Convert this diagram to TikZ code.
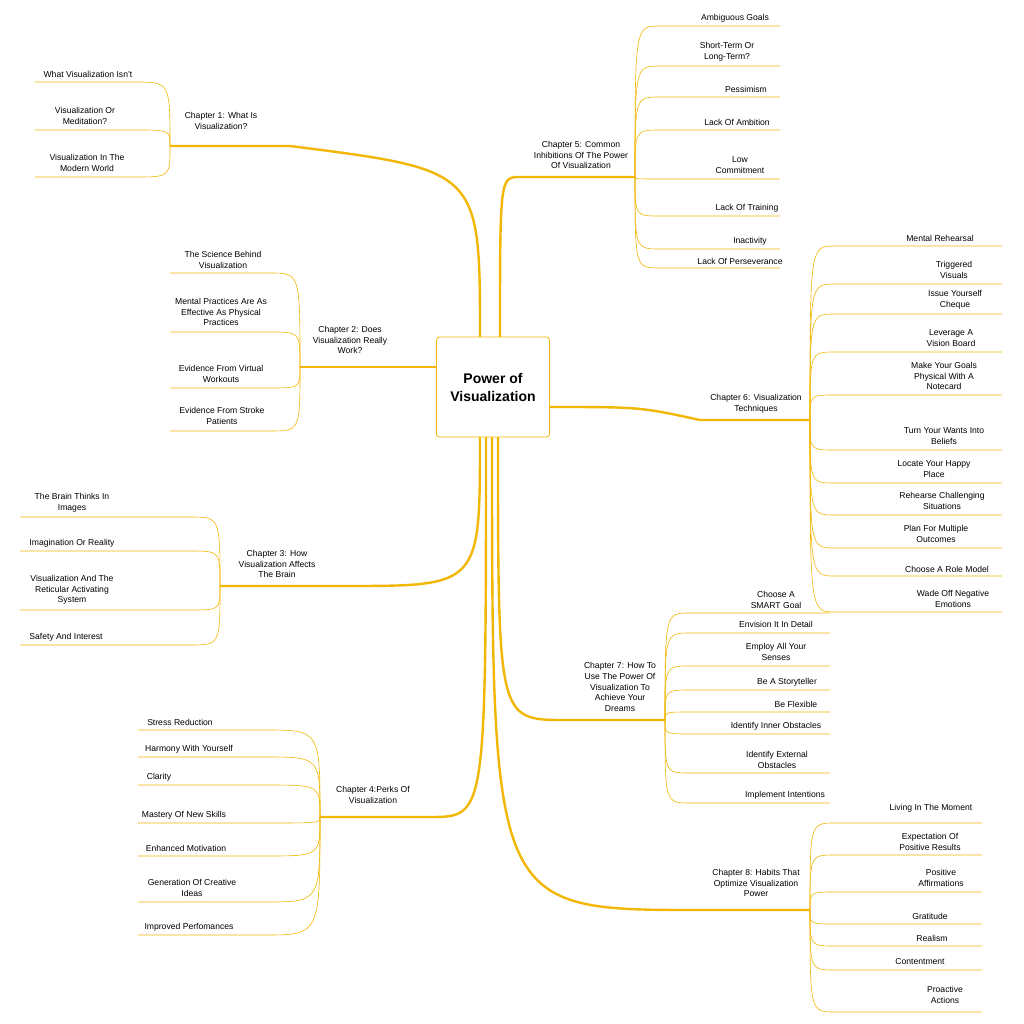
\documentclass[tikz,border=0pt]{standalone}
\usepackage{fontspec}
\setmainfont{Liberation Sans}
\definecolor{mapgold}{HTML}{F2B705}
\tikzset{
  leaf/.style={align=center,inner sep=1pt,font=\fontsize{8.6}{10.6}\selectfont},
  chap/.style={leaf},
  twig/.style={draw=mapgold,line width=0.6pt},
  limb/.style={draw=mapgold,line width=2.4pt},
  root/.style={draw=mapgold,line width=0.8pt,rounded corners=3pt,fill=white,
    minimum width=113pt,minimum height=100pt,align=center,
    font=\bfseries\fontsize{14}{18}\selectfont}
}
\begin{document}
\begin{tikzpicture}[x=1pt,y=-1pt]
\useasboundingbox[fill=white] (0,0) rectangle (1024,1024);
% chapter anchors
\coordinate (c1) at (170,146); \coordinate (e1) at (290,146);
\coordinate (c2) at (300,367); \coordinate (e2) at (437,367);
\coordinate (c3) at (220,586); \coordinate (e3) at (345,586);
\coordinate (c4) at (320,817); \coordinate (e4) at (430,817);
\coordinate (e5) at (520,177); \coordinate (c5) at (635,177);
\coordinate (e6) at (700,420); \coordinate (c6) at (810,420);
\coordinate (e7) at (565,720); \coordinate (c7) at (665,720);
\coordinate (e8) at (700,910); \coordinate (c8) at (810,910);
% main limbs
\coordinate (r1) at (480,337); \coordinate (r5) at (500,337);
\coordinate (r3) at (480,437); \coordinate (r4) at (486,437);
\coordinate (r8) at (492,437); \coordinate (r7) at (498,437);
\coordinate (r6) at (550,407);
\draw[limb] (r1) .. controls (480,170) .. (e1) -- (c1);
\draw[limb] (e2) -- (c2);
\draw[limb] (r3) .. controls (480,586) .. (e3) -- (c3);
\draw[limb] (r4) .. controls (486,817) .. (e4) -- (c4);
\draw[limb] (r5) .. controls (500,177) .. (e5) -- (c5);
\draw[limb] (r6) .. controls (640,407) .. (e6) -- (c6);
\draw[limb] (r7) .. controls (498,720) .. (e7) -- (c7);
\draw[limb] (r8) .. controls (492,910) .. (e8) -- (c8);
\node[root] (root) at (493,387) {Power of\\Visualization};
% chapter titles
\node[chap] (t1) at (221,121) {Chapter 1: What Is\\Visualization?};
\node[chap] (t2) at (350,340) {Chapter 2: Does\\Visualization Really\\Work?};
\node[chap] (t3) at (277,564) {Chapter 3: How\\Visualization Affects\\The Brain};
\node[chap] (t4) at (373,795) {Chapter 4:Perks Of\\Visualization};
\node[chap] (t5) at (581,155) {Chapter 5: Common\\Inhibitions Of The Power\\Of Visualization};
\node[chap] (t6) at (756,404) {Chapter 6: Visualization\\Techniques};
\node[chap] (t7) at (620,687) {Chapter 7: How To\\Use The Power Of\\Visualization To\\Achieve Your\\Dreams};
\node[chap] (t8) at (756,883) {Chapter 8: Habits That\\Optimize Visualization\\Power};
% left leaves
\foreach \tx/\ty/\uy/\t [count=\i] in {88/74/82/{What Visualization Isn't},
  85/116/130/{Visualization Or\\Meditation?},87/163/177/{Visualization In The\\Modern World}}{
  \node[leaf] (l1\i) at (\tx,\ty) {\t};
  \coordinate (a1\i) at (135,\uy); \coordinate (b1\i) at (35,\uy);
  \draw[twig] (c1) .. controls (c1 |- a1\i) .. (a1\i) -- (b1\i);
}
\foreach \tx/\ty/\uy/\t [count=\i] in {223/260/273/{The Science Behind\\Visualization},
  221/312/332/{Mental Practices Are As\\Effective As Physical\\Practices},
  221/374/388/{Evidence From Virtual\\Workouts},222/416/431/{Evidence From Stroke\\Patients}}{
  \node[leaf] (l2\i) at (\tx,\ty) {\t};
  \coordinate (a2\i) at (270,\uy); \coordinate (b2\i) at (170,\uy);
  \draw[twig] (c2) .. controls (c2 |- a2\i) .. (a2\i) -- (b2\i);
}
\foreach \tx/\ty/\uy/\t [count=\i] in {72/503/517/{The Brain Thinks In\\Images},
  72/543/551/{Imagination Or Reality},
  72/590/610/{Visualization And The\\Reticular Activating\\System},66/637/645/{Safety And Interest}}{
  \node[leaf] (l3\i) at (\tx,\ty) {\t};
  \coordinate (a3\i) at (190,\uy); \coordinate (b3\i) at (20,\uy);
  \draw[twig] (c3) .. controls (c3 |- a3\i) .. (a3\i) -- (b3\i);
}
\foreach \tx/\ty/\uy/\t [count=\i] in {180/722/730/{Stress Reduction},
  189/749/757/{Harmony With Yourself},159/777/785/{Clarity},
  184/815/823/{Mastery Of New Skills},186/848/856/{Enhanced Motivation},
  192/888/902/{Generation Of Creative\\Ideas},189/927/935/{Improved Perfomances}}{
  \node[leaf] (l4\i) at (\tx,\ty) {\t};
  \coordinate (a4\i) at (265,\uy); \coordinate (b4\i) at (138,\uy);
  \draw[twig] (c4) .. controls (c4 |- a4\i) .. (a4\i) -- (b4\i);
}
% right leaves
\foreach \tx/\ty/\uy/\t [count=\i] in {735/18/26/{Ambiguous Goals},
  727/52/66/{Short-Term Or\\Long-Term?},746/89/97/{Pessimism},737/122/130/{Lack Of Ambition},
  740/165/179/{Low\\Commitment},747/208/216/{Lack Of Training},750/241/249/{Inactivity},
  740/261/268/{Lack Of Perseverance}}{
  \node[leaf] (l5\i) at (\tx,\ty) {\t};
  \coordinate (a5\i) at (660,\uy); \coordinate (b5\i) at (780,\uy);
  \draw[twig] (c5) .. controls (c5 |- a5\i) .. (a5\i) -- (b5\i);
}
\foreach \tx/\ty/\uy/\t [count=\i] in {940/238/246/{Mental Rehearsal},
  954/270/284/{Triggered\\Visuals},955/300/314/{Issue Yourself\\Cheque},
  951/338/352/{Leverage A\\Vision Board},944/376/395/{Make Your Goals\\Physical With A\\Notecard},
  944/436/450/{Turn Your Wants Into\\Beliefs},934/469/483/{Locate Your Happy\\Place},
  942/501/515/{Rehearse Challenging\\Situations},936/534/548/{Plan For Multiple\\Outcomes},
  947/569/576/{Choose A Role Model},953/599/612/{Wade Off Negative\\Emotions}}{
  \node[leaf] (l6\i) at (\tx,\ty) {\t};
  \coordinate (a6\i) at (835,\uy); \coordinate (b6\i) at (1002,\uy);
  \draw[twig] (c6) .. controls (c6 |- a6\i) .. (a6\i) -- (b6\i);
}
\foreach \tx/\ty/\uy/\t [count=\i] in {776/600/613/{Choose A\\SMART Goal},
  776/624/633/{Envision It In Detail},776/652/666/{Employ All Your\\Senses},
  787/682/690/{Be A Storyteller},796/704/712/{Be Flexible},
  776/726/734/{Identify Inner Obstacles},777/760/773/{Identify External\\Obstacles},
  785/795/803/{Implement Intentions}}{
  \node[leaf] (l7\i) at (\tx,\ty) {\t};
  \coordinate (a7\i) at (690,\uy); \coordinate (b7\i) at (830,\uy);
  \draw[twig] (c7) .. controls (c7 |- a7\i) .. (a7\i) -- (b7\i);
}
\foreach \tx/\ty/\uy/\t [count=\i] in {931/808/823/{Living In The Moment},
  930/842/855/{Expectation Of\\Positive Results},941/878/892/{Positive\\Affirmations},
  930/916/924/{Gratitude},932/938/946/{Realism},920/962/970/{Contentment},
  945/995/1012/{Proactive\\Actions}}{
  \node[leaf] (l8\i) at (\tx,\ty) {\t};
  \coordinate (a8\i) at (835,\uy); \coordinate (b8\i) at (982,\uy);
  \draw[twig] (c8) .. controls (c8 |- a8\i) .. (a8\i) -- (b8\i);
}
\end{tikzpicture}
\end{document}
